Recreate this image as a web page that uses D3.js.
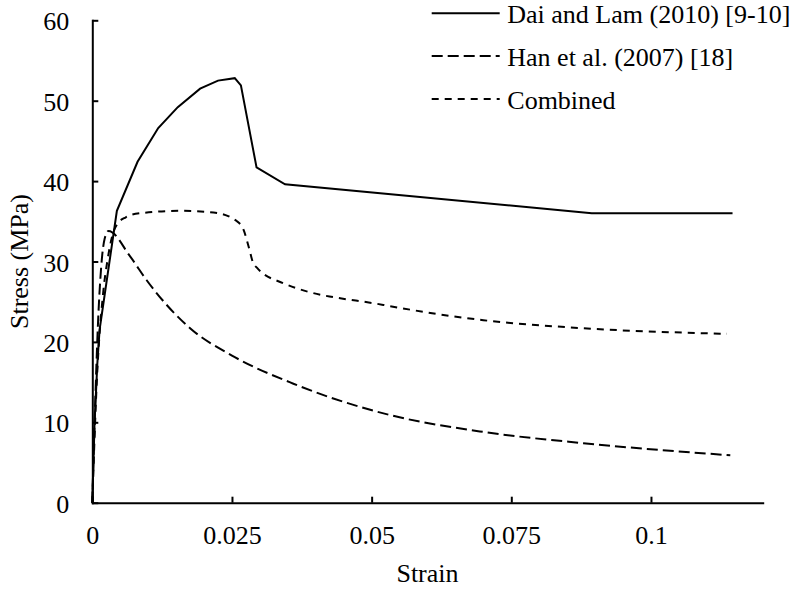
<!DOCTYPE html>
<html>
<head>
<meta charset="utf-8">
<script src="https://cdn.jsdelivr.net/npm/d3@7"></script>
<style>
  body { margin: 0; background: #fff; }
  svg { font-family: "Liberation Serif", "Times New Roman", serif; }
  .domain, .tick line { stroke: #000; stroke-width: 2; }
  .tick text { font-family: "Liberation Serif", "Times New Roman", serif; font-size: 26px; fill: #000; }
</style>
</head>
<body>
<div id="vis"></div>
<script>
// chart size and plot box
const FRAME_WIDTH = 800;
const FRAME_HEIGHT = 592;
const MARGINS = {left: 92.3, right: 37.3, top: 20.3, bottom: 89.3};

// data: strain vs stress (MPa)
const seriesNames = ['Dai and Lam (2010) [9-10]', 'Han et al. (2007) [18]', 'Combined'];

const daiStrain = [0, 0.0004, 0.0009, 0.0013, 0.0044, 0.0081, 0.0118, 0.0153, 0.0193, 0.0225, 0.0255, 0.0266, 0.0294, 0.0345, 0.0894, 0.1146];
const daiStress = [0, 9.9, 17.3, 21.5, 36.3, 42.4, 46.6, 49.2, 51.5, 52.5, 52.8, 51.9, 41.7, 39.6, 36.0, 36.0];

const hanStrain = [0, 0.0005, 0.001, 0.0016, 0.0022, 0.0029, 0.0068, 0.0097, 0.0175, 0.025, 0.036, 0.0533, 0.07, 0.0879, 0.1142];
const hanStress = [0, 12, 22, 29.4, 32.8, 33.8, 30.6, 27.7, 21.7, 18.3, 14.8, 10.9, 8.8, 7.4, 5.9];

const combStrain = [0, 0.0008, 0.0019, 0.0028, 0.0035, 0.0044, 0.006, 0.0085, 0.0157, 0.0217, 0.0259, 0.0271, 0.028, 0.0288, 0.0295, 0.0342, 0.0521, 0.07, 0.0879, 0.1136];
const combStress = [0, 15, 25.8, 30.5, 33, 34.6, 35.5, 36.0, 36.3, 36.1, 35.0, 33.9, 31.8, 29.8, 29.2, 27.3, 24.6, 22.7, 21.7, 21.0];

const xTicks = [0, 0.025, 0.05, 0.075, 0.1];
const xTickLabels = ['0', '0.025', '0.05', '0.075', '0.1'];
const yTicks = [0, 10, 20, 30, 40, 50, 60];

const X_MAX = 0.12;
const Y_MAX = 60;

// line styles for each series
const DASHES = [null, '11,5', '7,6'];
const CURVES = [d3.curveLinear, d3.curveMonotoneX, d3.curveMonotoneX];

const VIS_WIDTH = FRAME_WIDTH - MARGINS.left - MARGINS.right;
const VIS_HEIGHT = FRAME_HEIGHT - MARGINS.top - MARGINS.bottom;

const FRAME = d3.select('#vis')
  .append('svg')
    .attr('width', FRAME_WIDTH)
    .attr('height', FRAME_HEIGHT);

const X_SCALE = d3.scaleLinear().domain([0, X_MAX]).range([0, VIS_WIDTH]);
const Y_SCALE = d3.scaleLinear().domain([0, Y_MAX]).range([VIS_HEIGHT, 0]);

const G = FRAME.append('g')
  .attr('transform', 'translate(' + MARGINS.left + ',' + MARGINS.top + ')');

// axes, ticks point inward
G.append('g')
  .attr('transform', 'translate(0,' + VIS_HEIGHT + ')')
  .call(d3.axisBottom(X_SCALE)
    .tickValues(xTicks)
    .tickFormat((d, i) => xTickLabels[i])
    .tickSizeInner(-6)
    .tickSizeOuter(0)
    .tickPadding(23));

G.append('g')
  .call(d3.axisLeft(Y_SCALE)
    .tickValues(yTicks)
    .tickSizeInner(-6)
    .tickSizeOuter(0)
    .tickPadding(23))
  .selectAll('.tick text')
    .attr('dy', '0.37em');

G.selectAll('.domain').attr('stroke-linecap', 'square');

// the three curves
const series = [
  d3.zip(daiStrain, daiStress),
  d3.zip(hanStrain, hanStress),
  d3.zip(combStrain, combStress)
];

series.forEach((pts, i) => {
  const line = d3.line()
    .x(d => X_SCALE(d[0]))
    .y(d => Y_SCALE(d[1]))
    .curve(CURVES[i]);
  G.append('path')
    .datum(pts)
    .attr('d', line)
    .attr('fill', 'none')
    .attr('stroke', '#000')
    .attr('stroke-width', 2)
    .attr('stroke-dasharray', DASHES[i]);
});

// axis titles
FRAME.append('text')
  .attr('x', MARGINS.left + VIS_WIDTH / 2)
  .attr('y', 581.7)
  .attr('text-anchor', 'middle')
  .attr('font-size', '26px')
  .text('Strain');

FRAME.append('text')
  .attr('transform', 'translate(28.3,' + (MARGINS.top + VIS_HEIGHT / 2) + ') rotate(-90)')
  .attr('text-anchor', 'middle')
  .attr('font-size', '26px')
  .text('Stress (MPa)');

// legend at the top right
const LEGEND = FRAME.append('g').attr('transform', 'translate(431.7,13.3)');
seriesNames.forEach((name, i) => {
  const row = LEGEND.append('g').attr('transform', 'translate(0,' + (i * 42.8) + ')');
  row.append('line')
    .attr('x1', 0).attr('x2', 68)
    .attr('y1', 0).attr('y2', 0)
    .attr('stroke', '#000')
    .attr('stroke-width', 2)
    .attr('stroke-dasharray', DASHES[i]);
  row.append('text')
    .attr('x', 75.6)
    .attr('y', 9.8)
    .attr('font-size', '26px')
    .text(name);
});
</script>
</body>
</html>
